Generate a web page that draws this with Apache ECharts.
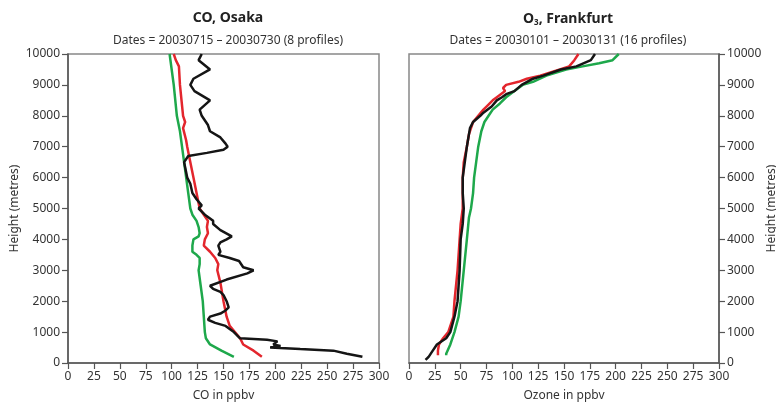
<!DOCTYPE html>
<html>
<head>
<meta charset="utf-8">
<script src="https://cdn.jsdelivr.net/npm/echarts@6/dist/echarts.min.js"></script>
<style>
  html, body { margin: 0; padding: 0; background: #fff; }
  #chart { width: 776px; height: 402px; }
</style>
</head>
<body>
<div id="chart"></div>
<script>
// Profile data: [ppbv, height in metres]
const coBlack = [
  [129, 10000], [126, 9800], [137, 9500], [121, 9200], [118, 9000], [122, 8800], [137, 8500],
  [127, 8200], [129, 8000], [135, 7700], [137, 7500], [147, 7300], [152, 7100], [154, 7000],
  [150, 6900], [134, 6800], [116, 6700], [112, 6500], [115, 6000], [118, 5800], [120, 5500],
  [124, 5300], [129, 5100], [126, 5000], [132, 4800], [140, 4600], [140, 4500], [147, 4300],
  [158, 4100], [153, 4000], [147, 3900], [145, 3800], [147, 3600], [145, 3500], [156, 3400],
  [165, 3300], [169, 3100], [179, 3000], [173, 2900], [153, 2700], [137, 2500], [140, 2400],
  [147, 2300], [150, 2200], [153, 2000], [155, 1800], [152, 1700], [147, 1600], [137, 1500],
  [135, 1400], [142, 1300], [152, 1200], [160, 1000], [166, 800], [192, 750], [202, 700],
  [198, 600], [205, 550], [195, 500], [224, 450], [256, 400], [269, 300], [284, 200]
];
const coRed = [
  [102, 10000], [104, 9800], [107, 9600], [108, 9000], [111, 8000], [113, 7800], [111, 7600],
  [114, 7200], [115, 7000], [118, 6500], [121, 6000], [124, 5500], [127, 5000], [131, 4800],
  [135, 4600], [134, 4400], [135, 4200], [132, 4000], [131, 3800], [137, 3600], [142, 3400],
  [145, 3200], [144, 3000], [147, 2600], [150, 2000], [153, 1500], [156, 1200], [161, 1000],
  [166, 800], [169, 600], [179, 400], [187, 200]
];
const coGreen = [
  [98, 10000], [102, 9000], [105, 8000], [108, 7500], [110, 7000], [112, 6500], [114, 6000],
  [116, 5500], [118, 5000], [120, 4800], [124, 4600], [126, 4400], [127, 4200], [126, 4100],
  [121, 4000], [120, 3800], [120, 3600], [124, 3500], [127, 3400], [127, 3200], [126, 3000],
  [128, 2500], [130, 2000], [131, 1500], [132, 1000], [133, 800], [137, 600], [148, 400],
  [160, 200]
];
const o3Black = [
  [180, 10000], [176, 9800], [162, 9600], [147, 9500], [130, 9300], [120, 9200], [109, 9000],
  [102, 8800], [94, 8700], [90, 8600], [85, 8500], [80, 8300], [72, 8100], [69, 8000],
  [62, 7800], [59, 7600], [58, 7400], [57, 7200], [56, 7000], [54, 6500], [52, 6000],
  [52, 5500], [53, 5000], [52, 4500], [50, 4000], [49, 3000], [47, 2000], [44, 1500],
  [40, 1000], [36, 800], [27, 600], [23, 400], [19, 200], [16, 100]
];
const o3Red = [
  [164, 10000], [160, 9800], [155, 9600], [146, 9500], [127, 9300], [114, 9200], [106, 9100],
  [94, 9000], [91, 8900], [93, 8800], [85, 8600], [81, 8500], [75, 8300], [72, 8200],
  [67, 8000], [62, 7800], [60, 7600], [58, 7400], [56, 7000], [53, 6500], [52, 6000],
  [52, 5500], [52, 5000], [50, 4500], [49, 4000], [47, 3000], [44, 2000], [43, 1500],
  [38, 1000], [33, 800], [29, 600], [28, 400], [28, 250]
];
const o3Green = [
  [203, 10000], [197, 9800], [184, 9700], [168, 9600], [152, 9500], [133, 9300], [120, 9100],
  [110, 9000], [102, 8800], [94, 8600], [88, 8400], [81, 8200], [77, 8000], [73, 7800],
  [70, 7500], [67, 7000], [65, 6500], [63, 6000], [62, 5500], [60, 5000], [58, 4700],
  [56, 4000], [53, 3000], [50, 2000], [48, 1500], [44, 1000], [40, 600], [36, 300], [36, 250]
];

const lineColors = ['#151515', '#e3262d', '#1ea84b'];
const textColor = '#333';
const axisColor = '#555';
const fontFamily = 'Noto Sans, Open Sans, sans-serif';

const chart = echarts.init(document.getElementById('chart'));

function xAxis(gridIndex, name) {
  return {
    type: 'value', gridIndex: gridIndex, min: 0, max: 300, interval: 25,
    name: name, nameLocation: 'middle', nameGap: 27,
    nameTextStyle: { color: textColor, fontSize: 12, fontFamily: fontFamily },
    axisLine: { show: true, onZero: false, lineStyle: { color: axisColor, width: 1.5 } },
    axisTick: { show: true, inside: false, length: 6, lineStyle: { color: axisColor, width: 1.2 } },
    axisLabel: { color: textColor, fontSize: 12, fontFamily: fontFamily, margin: 8 },
    splitLine: { show: false }
  };
}

function yAxis(gridIndex, position) {
  return {
    type: 'value', gridIndex: gridIndex, min: 0, max: 10000, interval: 1000,
    position: position,
    name: 'Height (metres)', nameLocation: 'middle', nameGap: 47, nameRotate: 90,
    nameTextStyle: { color: textColor, fontSize: 12, fontFamily: fontFamily },
    axisLine: { show: true, onZero: false, lineStyle: { color: axisColor, width: 1.5 } },
    axisTick: { show: true, inside: false, length: 6, lineStyle: { color: axisColor, width: 1.2 } },
    axisLabel: {
      color: textColor, fontSize: 12, fontFamily: fontFamily, margin: 8,
      formatter: function (v) { return String(v); }
    },
    splitLine: { show: false }
  };
}

function profile(data, color, idx) {
  return {
    type: 'line', xAxisIndex: idx, yAxisIndex: idx, data: data,
    showSymbol: false, symbol: 'none',
    lineStyle: { color: color, width: 2.5 },
    animation: false
  };
}

const option = {
  backgroundColor: '#fff',
  animation: false,
  title: [
    {
      text: 'CO, Osaka', left: 223, top: 6, textAlign: 'center',
      textStyle: { color: '#222', fontSize: 14, fontWeight: 'bold', fontFamily: fontFamily }
    },
    {
      text: 'Dates = 20030715 \u2013 20030730 (8 profiles)', left: 223, top: 30, textAlign: 'center',
      textStyle: { color: textColor, fontSize: 12, fontWeight: 'normal', fontFamily: fontFamily }
    },
    {
      text: '{b|O}{s|3}{b|, Frankfurt}', left: 563, top: 6, textAlign: 'center',
      textStyle: {
        rich: {
          b: { color: '#222', fontSize: 14, fontWeight: 'bold', fontFamily: fontFamily },
          s: { color: '#222', fontSize: 8, fontWeight: 'bold', fontFamily: fontFamily, padding: [8, 0, 0, 0] }
        }
      }
    },
    {
      text: 'Dates = 20030101 \u2013 20030131 (16 profiles)', left: 563, top: 30, textAlign: 'center',
      textStyle: { color: textColor, fontSize: 12, fontWeight: 'normal', fontFamily: fontFamily }
    }
  ],
  grid: [
    { left: 68, right: 397, top: 54, bottom: 39, outerBoundsMode: 'none',
      show: true, borderColor: '#888', borderWidth: 1.5 },
    { left: 409, right: 57, top: 54, bottom: 39, outerBoundsMode: 'none',
      show: true, borderColor: '#888', borderWidth: 1.5 }
  ],
  xAxis: [xAxis(0, 'CO in ppbv'), xAxis(1, 'Ozone in ppbv')],
  yAxis: [yAxis(0, 'left'), yAxis(1, 'right')],
  series: [
    profile(coGreen, lineColors[2], 0),
    profile(coRed, lineColors[1], 0),
    profile(coBlack, lineColors[0], 0),
    profile(o3Green, lineColors[2], 1),
    profile(o3Red, lineColors[1], 1),
    profile(o3Black, lineColors[0], 1)
  ]
};

chart.setOption(option);
</script>
</body>
</html>
